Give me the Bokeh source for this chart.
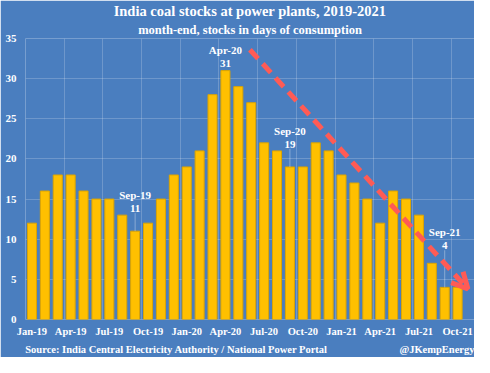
from bokeh.plotting import figure
from bokeh.models import FixedTicker, Label, Arrow, OpenHead, Range1d, ColumnDataSource, Title, LinearAxis
from bokeh.embed import file_html
from bokeh.resources import INLINE

# ---- data ----
months = ["Jan-19", "Feb-19", "Mar-19", "Apr-19", "May-19", "Jun-19", "Jul-19", "Aug-19",
          "Sep-19", "Oct-19", "Nov-19", "Dec-19", "Jan-20", "Feb-20", "Mar-20", "Apr-20",
          "May-20", "Jun-20", "Jul-20", "Aug-20", "Sep-20", "Oct-20", "Nov-20", "Dec-20",
          "Jan-21", "Feb-21", "Mar-21", "Apr-21", "May-21", "Jun-21", "Jul-21", "Aug-21",
          "Sep-21", "Oct-21"]
stocks = [12, 16, 18, 18, 16, 15, 15, 13, 11, 12, 15, 18, 19, 21, 28, 31, 29, 27,
          22, 21, 19, 19, 22, 21, 18, 17, 15, 12, 16, 15, 13, 7, 4, 4]
tick_months = ["Jan-19", "Apr-19", "Jul-19", "Oct-19", "Jan-20", "Apr-20", "Jul-20",
               "Oct-20", "Jan-21", "Apr-21", "Jul-21", "Oct-21"]
y_ticks = [0, 5, 10, 15, 20, 25, 30, 35]
callouts = ["Sep-19", "Apr-20", "Sep-20", "Sep-21"]
callout_gap_px = [19, 4, 19, 38]
# trend arrow endpoints (annotation, in month-index / days units)
trend_start = (17.4, 33.6)
trend_end = (34.3, 3.8)
title_text = "India coal stocks at power plants, 2019-2021"
subtitle_text = "month-end, stocks in days of consumption"
source_text = "Source: India Central Electricity Authority / National Power Portal"
handle_text = "@JKempEnergy"

# ---- style ----
BG = "#4A7EBF"
BAR = "#FFC000"
RED = "#FF5B55"
FONT = "Liberation Serif"
W, H = 474, 357
BL = 25
PX_X = 12.9
X_END = round((W - BL) / PX_X, 2)


def fx(px):
    return round((px - BL) / PX_X, 2)


centers = [i + 0.5 for i in range(len(months))]
src = ColumnDataSource(dict(x=centers, top=stocks))

p = figure(width=W, height=H, output_backend="svg", toolbar_location=None,
           x_range=Range1d(0, X_END), y_range=Range1d(0, 35),
           min_border_left=BL, min_border_right=0, min_border_top=0,
           min_border_bottom=0)
p.background_fill_color = BG
p.border_fill_color = BG
p.outline_line_color = None

p.vbar(x="x", top="top", width=0.7, source=src, fill_color=BAR, line_color="#DCA400", line_width=1)

# axes
p.yaxis.ticker = FixedTicker(ticks=y_ticks)
p.xaxis.ticker = FixedTicker(ticks=[months.index(m) + 0.5 for m in tick_months])
p.xaxis.major_label_overrides = {months.index(m) + 0.5: m for m in tick_months}

foot_ticks = [fx(176), fx(438)]
foot_axis = LinearAxis(ticker=FixedTicker(ticks=foot_ticks),
                       major_label_overrides={foot_ticks[0]: source_text, foot_ticks[1]: handle_text})
p.add_layout(foot_axis, "below")

for ax in (p.xaxis[0], p.yaxis[0], foot_axis):
    ax.axis_line_color = None
    ax.major_tick_line_color = None
    ax.minor_tick_line_color = None
    ax.major_tick_out = 0
    ax.major_tick_in = 0
    ax.minor_tick_out = 0
    ax.minor_tick_in = 0
    ax.axis_label_standoff = 0
    ax.major_label_text_color = "white"
    ax.major_label_text_font = FONT
    ax.major_label_text_font_style = "bold"
    ax.major_label_text_font_size = "10.5px"
p.yaxis.major_label_text_font_size = "11px"
p.yaxis.major_label_standoff = 9
p.xaxis[0].major_label_standoff = 6
foot_axis.major_label_standoff = 4

# grid
p.xgrid.ticker = FixedTicker(ticks=list(range(0, 37, 3)))
p.ygrid.ticker = FixedTicker(ticks=y_ticks)
for g in (p.xgrid[0], p.ygrid[0]):
    g.grid_line_color = "white"
    g.grid_line_alpha = 0.2
    g.grid_line_width = 1

# titles
p.add_layout(Title(text=subtitle_text, align="center", text_color="white", text_font=FONT,
                   text_font_style="bold", text_font_size="12.5px", standoff=4), "above")
p.add_layout(Title(text=title_text, align="center", text_color="white", text_font=FONT,
                   text_font_style="bold", text_font_size="14.5px", standoff=0), "above")

PX_Y = 8.0  # approximate px per day, for callout offsets

# callouts
for m, gap in zip(callouts, callout_gap_px):
    i = months.index(m)
    v = stocks[i]
    x = i + 0.5
    if gap > 8:
        p.segment(x0=[x], y0=[v], x1=[x], y1=[v + (gap - 1) / PX_Y],
                  line_color="white", line_alpha=0.35, line_width=1)
    p.add_layout(Label(x=x, y=v, y_offset=gap, text=str(v), text_align="center",
                       text_baseline="bottom", text_color="white", text_font=FONT,
                       text_font_style="bold", text_font_size="11px"))
    p.add_layout(Label(x=x, y=v, y_offset=gap + 11, text=m, text_align="center",
                       text_baseline="bottom", text_color="white", text_font=FONT,
                       text_font_style="bold", text_font_size="11px"))

# trend arrow
p.add_layout(Arrow(x_start=trend_start[0], y_start=trend_start[1],
                   x_end=trend_end[0], y_end=trend_end[1],
                   line_color=RED, line_width=5, line_dash="12 7",
                   end=OpenHead(line_color=RED, line_width=5, size=16)))

open("out.html", "w").write(file_html(p, INLINE))
